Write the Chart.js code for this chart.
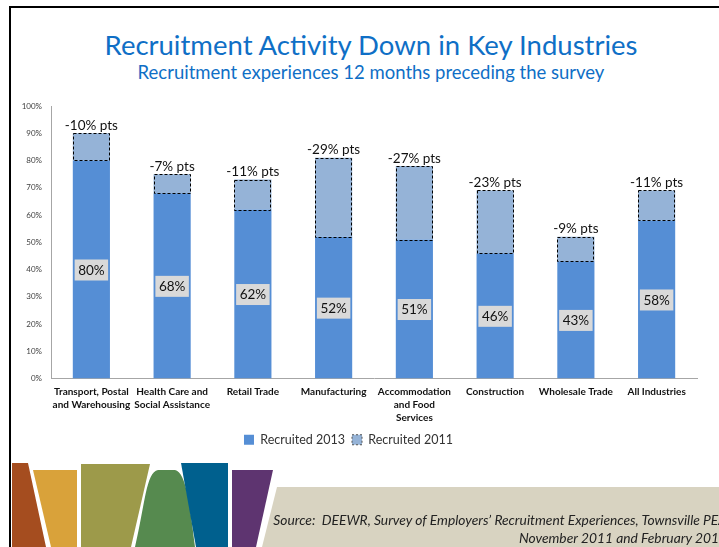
<!DOCTYPE html>
<html lang="en">
<head>
    <meta charset="UTF-8">
    <title>Recruitment Activity Down in Key Industries</title>
    <script src="https://cdn.jsdelivr.net/npm/chart.js"></script>
    <style>
        body { margin: 0; background: #fff; }
        #slide { position: relative; width: 719px; height: 547px; overflow: hidden; font-family: Lato, sans-serif; }
        #frameTop { position: absolute; left: 9px; top: 6px; width: 720px; height: 2px; background: #000; }
        #frameLeft { position: absolute; left: 9px; top: 6px; width: 2px; height: 550px; background: #000; }
        #title { position: absolute; left: 0; top: 29px; width: 742px; text-align: center; color: #0f6fc6; font-size: 27.5px; line-height: 32px; }
        #subtitle { position: absolute; left: 0; top: 61px; width: 742px; text-align: center; color: #0f6fc6; font-size: 18.5px; line-height: 22px; }
        #wrap { position: absolute; left: 0; top: 90px; width: 700px; height: 366px; }
        #deco { position: absolute; left: 0; top: 455px; }
        #source { position: absolute; right: -8px; top: 511px; width: 500px; text-align: right; font-style: italic; font-size: 13.8px; line-height: 18px; color: #222; white-space: nowrap; }
    </style>
</head>
<body>
<div id="slide">
    <div id="frameTop"></div>
    <div id="frameLeft"></div>
    <div id="title">Recruitment Activity Down in Key Industries</div>
    <div id="subtitle">Recruitment experiences 12 months preceding the survey</div>

    <div id="wrap"><canvas id="chart"></canvas></div>

    <svg id="deco" width="719" height="92">
        <rect x="258" y="32" width="470" height="70" fill="#d8d3c1"/>
        <polygon points="258,32 277,32 262,92 250,92" fill="#fff"/>
        <polygon points="12,8 28,8 46,92 12,92" fill="#a54d1f"/>
        <polygon points="33,15 77,15 77,92 51,92" fill="#d9a23a"/>
        <polygon points="81,9 150,9 131,92 81,92" fill="#9d9a4a"/>
        <path d="M135,92 C145,50 146,17 158,15 L175,15 C186,17 190,50 195,92 Z" fill="#568a4f"/>
        <polygon points="181,8 228,8 228,92 196,92" fill="#00608e"/>
        <polygon points="232,15 273,15 256,92 232,92" fill="#5e3470"/>
    </svg>
    <div id="source">Source:&nbsp; DEEWR, Survey of Employers’ Recruitment Experiences, Townsville PEA<br>November 2011 and February 2013</div>
</div>

<script>
    const industries = [
        ['Transport, Postal', 'and Warehousing'],
        ['Health Care and', 'Social Assistance'],
        'Retail Trade',
        'Manufacturing',
        ['Accommodation', 'and Food', 'Services'],
        'Construction',
        'Wholesale Trade',
        'All Industries'
    ];
    // share of employers recruiting in 2013
    const recruited2013 = [80, 68, 62, 52, 51, 46, 43, 58];
    // drop in percentage points since 2011 (stacked on top)
    const changePts = [10, 7, 11, 29, 27, 23, 9, 11];
    const yTicks = [0, 10, 20, 30, 40, 50, 60, 70, 80, 90, 100];

    const blue2013 = '#558ed5';
    const blue2011 = '#95b3d7';

    // dashed outline + value labels
    const barLabels = {
        id: 'barLabels',
        afterDatasetsDraw(chart) {
            const ctx = chart.ctx;
            const m13 = chart.getDatasetMeta(0);
            const m11 = chart.getDatasetMeta(1);
            ctx.save();
            ctx.strokeStyle = '#000';
            ctx.lineWidth = 1;
            ctx.setLineDash([3, 2]);
            m11.data.forEach(bar => {
                const left = Math.round(bar.x - bar.width / 2) + 0.5;
                const right = Math.round(bar.x + bar.width / 2) - 0.5;
                ctx.strokeRect(left, Math.round(bar.y) + 0.5, right - left, Math.round(bar.base) - Math.round(bar.y));
            });
            ctx.setLineDash([]);
            ctx.font = '13.5px Lato';
            ctx.textAlign = 'center';
            ctx.textBaseline = 'middle';
            m13.data.forEach((bar, i) => {
                const cy = (bar.y + bar.base) / 2;
                const txt = recruited2013[i] + '%';
                const w = ctx.measureText(txt).width + 7;
                ctx.fillStyle = '#d9d9d9';
                ctx.fillRect(bar.x - w / 2, cy - 10, w, 21);
                ctx.fillStyle = '#111';
                ctx.fillText(txt, bar.x, cy + 1);
            });
            ctx.textBaseline = 'bottom';
            m11.data.forEach((bar, i) => {
                ctx.fillText('-' + changePts[i] + '% pts', bar.x, bar.y - 1);
            });
            ctx.restore();
        }
    };

    new Chart(document.getElementById('chart'), {
        type: 'bar',
        data: {
            labels: industries,
            datasets: [{
                label: 'Recruited 2013',
                data: recruited2013,
                backgroundColor: blue2013,
                borderWidth: 0,
                categoryPercentage: 1,
                barPercentage: 0.46
            }, {
                label: 'Recruited 2011',
                data: changePts,
                backgroundColor: blue2011,
                borderWidth: 0,
                categoryPercentage: 1,
                barPercentage: 0.46
            }]
        },
        options: {
            responsive: true,
            maintainAspectRatio: false,
            animation: false,
            layout: { padding: { top: 16, right: 3, left: 0, bottom: 0 } },
            plugins: {
                tooltip: { enabled: false },
                legend: {
                    position: 'bottom',
                    labels: {
                        font: { family: 'Lato', size: 12.5 },
                        color: '#333',
                        boxWidth: 10,
                        boxHeight: 10,
                        padding: 7,
                        generateLabels(chart) {
                            return chart.data.datasets.map((ds, i) => ({
                                text: ds.label,
                                fillStyle: ds.backgroundColor,
                                strokeStyle: i === 1 ? '#555' : ds.backgroundColor,
                                lineWidth: i === 1 ? 1 : 0,
                                lineDash: i === 1 ? [2, 2] : [],
                                datasetIndex: i,
                                fontColor: '#333'
                            }));
                        }
                    }
                }
            },
            scales: {
                x: {
                    stacked: true,
                    grid: { display: false, drawTicks: false },
                    border: { color: '#a6a6a6' },
                    ticks: {
                        autoSkip: false,
                        maxRotation: 0,
                        minRotation: 0,
                        padding: 7,
                        color: '#111',
                        font: { family: 'Lato', size: 10, weight: 'bold', lineHeight: 1.3 }
                    },
                    afterFit(scale) { scale.height = 48; }
                },
                y: {
                    stacked: true,
                    min: 0,
                    max: 100,
                    grid: { display: false, drawTicks: false },
                    border: { color: '#a6a6a6' },
                    afterBuildTicks(scale) { scale.ticks = yTicks.map(v => ({ value: v })); },
                    ticks: {
                        padding: 9,
                        color: '#404040',
                        font: { family: 'Lato', size: 8 },
                        callback: v => v + '%'
                    },
                    afterFit(scale) { scale.width = 51; }
                }
            }
        },
        plugins: [barLabels]
    });
</script>
</body>
</html>
